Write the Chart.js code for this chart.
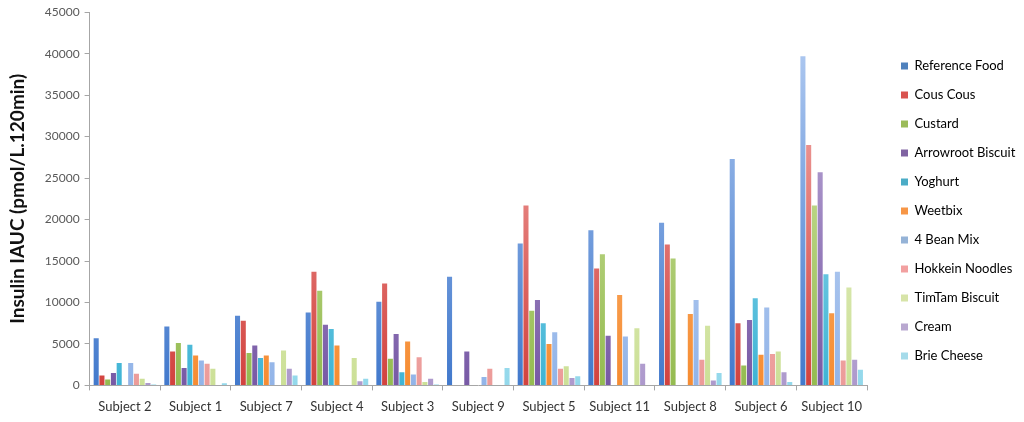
<!DOCTYPE html>
<html>
<head>
<meta charset="utf-8">
<script src="https://cdn.jsdelivr.net/npm/chart.js@4.4.1/dist/chart.umd.min.js"></script>
<style>
html,body{margin:0;padding:0;background:#fff;}
#wrap{width:1024px;height:422px;position:relative;}
</style>
</head>
<body>
<div id="wrap"><canvas id="c"></canvas></div>
<script>
const subjects=["Subject 2","Subject 1","Subject 7","Subject 4","Subject 3","Subject 9","Subject 5","Subject 11","Subject 8","Subject 6","Subject 10"];
const foods=["Reference Food","Cous Cous","Custard","Arrowroot Biscuit","Yoghurt","Weetbix","4 Bean Mix","Hokkein Noodles","TimTam Biscuit","Cream","Brie Cheese"];
// values per food, in subject order
const referenceFood=[5700,7100,8400,8800,10100,13100,17100,18700,19600,27300,39700];
const cousCous=[1200,4100,7800,13700,12300,0,21700,14100,17000,7500,29000];
const custard=[700,5100,3900,11400,3200,0,9000,15800,15300,2400,21700];
const arrowrootBiscuit=[1500,2100,4800,7300,6200,4100,10300,6000,0,7900,25700];
const yoghurt=[2700,4900,3300,6800,1600,0,7500,0,0,10500,13400];
const weetbix=[0,3600,3600,4800,5300,0,5000,10900,8600,3700,8700];
const beanMix=[2700,3000,2800,0,1300,1000,6400,5900,10300,9400,13700];
const hokkeinNoodles=[1400,2600,0,0,3400,2000,2000,0,3100,3800,3000];
const timtamBiscuit=[800,2000,4200,3300,400,0,2300,6900,7200,4100,11800];
const cream=[300,0,2000,500,800,0,900,2600,600,1600,3100];
const brieCheese=[100,250,1200,800,100,2100,1100,0,1500,400,1900];
const seriesValues=[referenceFood,cousCous,custard,arrowrootBiscuit,yoghurt,weetbix,beanMix,hokkeinNoodles,timtamBiscuit,cream,brieCheese];
const yTicks=[0,5000,10000,15000,20000,25000,30000,35000,40000,45000];

const shades=[
  ["#b8d0f4","#4279cc","#4f81bd"],
  ["#f7bcba","#d2423e","#d9534f"],
  ["#e0eeb9","#94bb50","#9bbb59"],
  ["#cdbde3","#7759a5","#8064a2"],
  ["#bbe9f6","#3fb4d5","#4bacc6"],
  ["#fccb98","#f68c32","#f79646"],
  ["#d6e4f9","#92b4e8","#95b3d7"],
  ["#fad4d3","#ec9b99","#f2a0a0"],
  ["#f0f6d9","#cce097","#d7e4a8"],
  ["#e6ddf1","#ad99cc","#b9a8d0"],
  ["#d9f3fa","#93d8eb","#a5dbea"]
];
function grad(i){
  return ctx=>{
    const a=ctx.chart.chartArea;
    if(!a)return shades[i][2];
    const g=ctx.chart.ctx.createLinearGradient(0,a.top,0,a.bottom);
    g.addColorStop(0,shades[i][0]);g.addColorStop(1,shades[i][1]);
    return g;
  };
}

// legend sits a bit away from the plot, like the excel original
const legendGap={id:"legendGap",
  beforeInit(ch){const lg=ch.legend,fit=lg.fit.bind(lg);lg.fit=function(){fit();this.width=157;};},
  afterLayout(ch){ch.legend.left+=18;ch.legend.top-=5;ch.legend.bottom-=5;}
};

Chart.defaults.font.family="Lato, 'Open Sans', sans-serif";
new Chart(document.getElementById("c"),{
  type:"bar",
  data:{labels:subjects,datasets:foods.map((f,i)=>({
    label:f,data:seriesValues[i],backgroundColor:grad(i),borderWidth:0,
    categoryPercentage:0.895,barPercentage:0.88
  }))},
  plugins:[legendGap],
  options:{
    responsive:true,maintainAspectRatio:false,animation:false,
    layout:{padding:{top:8,right:0,bottom:-2,left:6}},
    plugins:{
      tooltip:{enabled:false},
      legend:{position:"right",align:"center",
        labels:{boxWidth:7,boxHeight:7,padding:16,color:"#222",font:{size:13},
          generateLabels:ch=>foods.map((f,i)=>({text:f,fillStyle:shades[i][2],strokeStyle:shades[i][2],lineWidth:0,datasetIndex:i}))}}
    },
    scales:{
      x:{grid:{display:true,drawOnChartArea:false,drawTicks:true,tickLength:5,color:"#a6a6a6",offset:true},
        border:{color:"#a6a6a6"},
        ticks:{color:"#333",font:{size:13},padding:9,maxRotation:0,autoSkip:false}},
      y:{min:0,max:45000,
        afterBuildTicks:s=>{s.ticks=yTicks.map(v=>({value:v}));},
        grid:{display:true,drawOnChartArea:false,drawTicks:true,tickLength:5,color:"#a6a6a6"},
        border:{color:"#a6a6a6"},
        ticks:{color:"#595959",font:{size:12},padding:5,callback:v=>String(v)},
        title:{display:true,text:"Insulin IAUC (pmol/L.120min)",color:"#111",font:{size:19,weight:"bold"},padding:{top:0,bottom:11}}}
    }
  }
});
</script>
</body>
</html>
